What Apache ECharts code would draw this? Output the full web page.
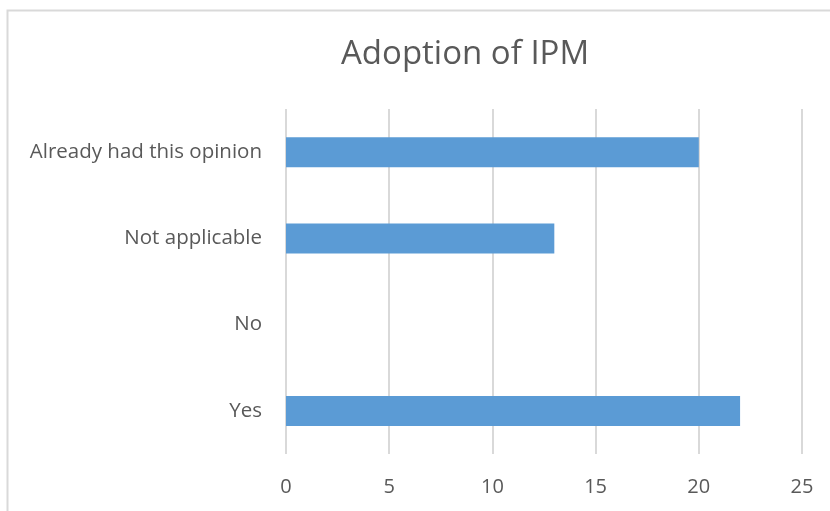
<!DOCTYPE html>
<html>
<head>
<meta charset="utf-8">
<script src="https://cdn.jsdelivr.net/npm/echarts@6/dist/echarts.min.js"></script>
<style>html,body{margin:0;padding:0;background:#fff}#c{width:830px;height:511px}</style>
</head>
<body>
<div id="c"></div>
<script>
const titleText = "Adoption of IPM";
const categories = ["Yes", "No", "Not applicable", "Already had this opinion"];
const values = [22, 0, 13, 20];
const xTicks = [0, 5, 10, 15, 20, 25];

const chart = echarts.init(document.getElementById('c'), null, {renderer: 'canvas'});
chart.setOption({
  animation: false,
  backgroundColor: '#ffffff',
  title: {
    text: titleText,
    left: 336,
    top: 33,
    textStyle: {fontFamily: 'Open Sans', fontSize: 33, fontWeight: 'normal', color: '#595959'}
  },
  graphic: [{
    type: 'rect',
    shape: {x: 7.5, y: 10.5, width: 900, height: 600},
    style: {fill: 'none', stroke: '#d9d9d9', lineWidth: 2},
    silent: true
  }],
  grid: {left: 286, right: 28, top: 109, bottom: 57, containLabel: false},
  xAxis: {
    type: 'value',
    min: xTicks[0],
    max: xTicks[xTicks.length - 1],
    interval: 5,
    axisLine: {show: false},
    axisTick: {show: false},
    splitLine: {show: true, lineStyle: {color: '#d9d9d9', width: 2}},
    axisLabel: {margin: 23, fontFamily: 'Open Sans', fontSize: 20, color: '#595959'}
  },
  yAxis: {
    type: 'category',
    data: categories,
    axisLine: {show: false},
    axisTick: {show: false},
    splitLine: {show: false},
    axisLabel: {margin: 24, fontFamily: 'Open Sans', fontSize: 20.5, color: '#595959'}
  },
  series: [{
    type: 'bar',
    data: values,
    barWidth: 30,
    itemStyle: {color: '#5b9bd5'}
  }]
});
</script>
</body>
</html>
